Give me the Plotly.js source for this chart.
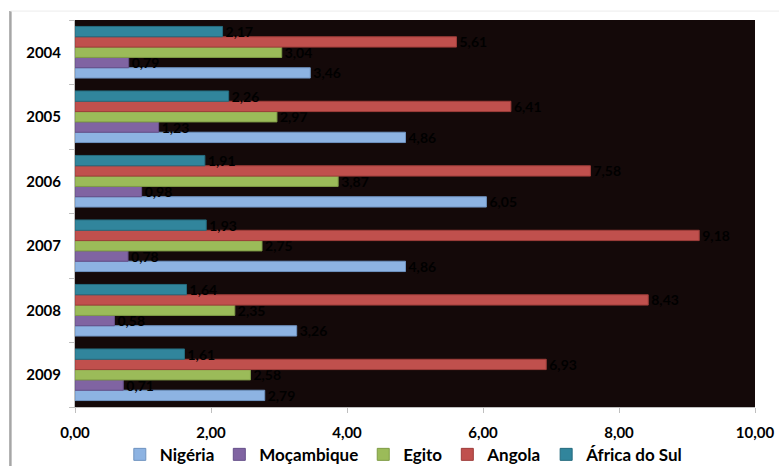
<!DOCTYPE html>
<html><head><meta charset="utf-8">
<script src="https://cdn.plot.ly/plotly-3.0.1.min.js"></script>
<style>html,body{margin:0;padding:0;background:#fff}#chart{width:779px;height:466px}</style>
</head><body><div id="chart"></div>
<script>
const years = ['2004','2005','2006','2007','2008','2009'];
const nigeria = [3.46, 4.86, 6.05, 4.86, 3.26, 2.79];
const mocambique = [0.79, 1.23, 0.98, 0.78, 0.58, 0.71];
const egito = [3.04, 2.97, 3.87, 2.75, 2.35, 2.58];
const angola = [5.61, 6.41, 7.58, 9.18, 8.43, 6.93];
const africaSul = [2.17, 2.26, 1.91, 1.93, 1.64, 1.61];
const seriesNames = ['Nigéria','Moçambique','Egito','Angola','África do Sul'];
const xTicks = [0,2,4,6,8,10];
const xTickText = ['0,00','2,00','4,00','6,00','8,00','10,00'];

const colors = ['#8db3e2','#8064a2','#9bbb59','#c0504d','#31859c'];
const lines = ['#6f93c0','#66508a','#7f9c46','#9e3d3a','#256b7e'];
const font = 'Lato, "Open Sans", sans-serif';
const fmt = v => v.toFixed(2).replace('.', ',');

const data = [nigeria, mocambique, egito, angola, africaSul].map((vals, i) => ({
  type: 'bar', orientation: 'h', name: seriesNames[i],
  y: years, x: vals,
  text: vals.map(fmt), textposition: 'outside', cliponaxis: false, constraintext: 'none',
  textfont: {family: font, size: 14, color: '#000000', weight: 'bold'},
  marker: {color: colors[i], line: {color: lines[i], width: 1}},
  hoverinfo: 'x+name'
}));

const layout = {
  width: 779, height: 466,
  margin: {l: 75, r: 24, t: 20, b: 59, autoexpand: false},
  paper_bgcolor: '#ffffff', plot_bgcolor: '#140909',
  barmode: 'group', bargap: 0.2, bargroupgap: 0,
  showlegend: true,
  legend: {orientation: 'h', x: 0.519, xanchor: 'center', xref: 'container',
    y: 0.024, yanchor: 'middle', yref: 'container', bgcolor: 'rgba(0,0,0,0)',
    font: {family: font, size: 17, color: '#000', weight: 'bold'}, traceorder: 'normal',
    itemwidth: 30},
  xaxis: {range: [0, 10], tickvals: xTicks, ticktext: xTickText,
    showgrid: false, zeroline: false, showline: true, linecolor: '#bfbfbf', linewidth: 1,
    ticks: 'outside', ticklen: 5, tickcolor: '#bfbfbf', ticklabelstandoff: 7,
    tickfont: {family: font, size: 15, color: '#000', weight: 'bold'}},
  yaxis: {type: 'category', categoryorder: 'array', categoryarray: years.slice().reverse(),
    showgrid: false, zeroline: false, showline: true, linecolor: '#bfbfbf', linewidth: 1,
    ticks: 'outside', ticklen: 5, tickcolor: '#bfbfbf', tickson: 'boundaries',
    ticklabelstandoff: 10,
    tickfont: {family: font, size: 15, color: '#000', weight: 'bold'}},
  shapes: [
    {type: 'line', xref: 'paper', yref: 'paper', x0: -0.095, x1: -0.095, y0: -0.2, y1: 1.023,
      line: {color: '#a6a6a6', width: 2.5}},
    {type: 'line', xref: 'paper', yref: 'paper', x0: -0.095, x1: 1.04, y0: 1.023, y1: 1.023,
      line: {color: '#ececec', width: 1}}
  ]
};
Plotly.newPlot('chart', data, layout, {displayModeBar: false, staticPlot: true});
</script></body></html>
